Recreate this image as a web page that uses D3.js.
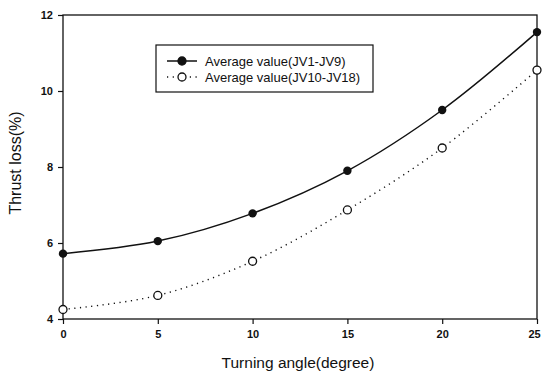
<!DOCTYPE html>
<html>
<head>
<meta charset="utf-8">
<script src="https://cdn.jsdelivr.net/npm/d3@7"></script>
<style>
  body { margin: 0; background: #fff; }
  text { font-family: "Liberation Sans", Arial, sans-serif; fill: #111; }
</style>
</head>
<body>
<svg id="chart" width="542" height="374"></svg>
<script>
// data
var angles = [0, 5, 10, 15, 20, 25];
var avgJV1to9 = [5.72, 6.05, 6.78, 7.9, 9.5, 11.55];
var avgJV10to18 = [4.25, 4.62, 5.52, 6.87, 8.5, 10.55];
var xTicks = [0, 5, 10, 15, 20, 25];
var yTicks = [4, 6, 8, 10, 12];
var seriesNames = ["Average value(JV1-JV9)", "Average value(JV10-JV18)"];

var svg = d3.select("#chart");
var m = { left: 63, right: 537, top: 15, bottom: 319 };

var x = d3.scaleLinear().domain([0, 25]).range([m.left, m.right]);
var y = d3.scaleLinear().domain([4, 12]).range([m.bottom, m.top]);

// frame
svg.append("rect")
  .attr("x", m.left).attr("y", m.top)
  .attr("width", m.right - m.left).attr("height", m.bottom - m.top)
  .attr("fill", "none").attr("stroke", "#111").attr("stroke-width", 1.3);

var xAxis = svg.append("g").attr("transform", "translate(0," + m.bottom + ")")
  .call(d3.axisBottom(x).tickValues(xTicks).tickSize(5).tickPadding(6));
var yAxis = svg.append("g").attr("transform", "translate(" + m.left + ",0)")
  .call(d3.axisLeft(y).tickValues(yTicks).tickSize(5).tickPadding(5));

[xAxis, yAxis].forEach(a => {
  a.select(".domain").remove();
  a.selectAll("line").attr("stroke", "#111").attr("stroke-width", 1.2);
  a.selectAll("text").style("font-size", "11px").style("font-weight", "bold")
    .style("font-family", "'Liberation Sans', Arial, sans-serif").attr("fill", "#111");
});
// last x label sits on the edge: keep it inside the window
xAxis.selectAll(".tick text").filter(d => d === 25).attr("dx", -3);

svg.append("text")
  .attr("x", (m.left + m.right) / 2 - 2).attr("y", 368)
  .attr("text-anchor", "middle").style("font-size", "15.5px")
  .text("Turning angle(degree)");

svg.append("text")
  .attr("transform", "translate(21," + (163) + ") rotate(-90)")
  .attr("text-anchor", "middle").style("font-size", "16px")
  .text("Thrust loss(%)");

var line = d3.line().x(d => x(d[0])).y(d => y(d[1])).curve(d3.curveCatmullRom);

var s1 = angles.map((a, i) => [a, avgJV1to9[i]]);
var s2 = angles.map((a, i) => [a, avgJV10to18[i]]);

svg.append("path").datum(s2).attr("d", line)
  .attr("fill", "none").attr("stroke", "#111").attr("stroke-width", 1.4)
  .attr("stroke-dasharray", "1.2,4.5");
svg.append("path").datum(s1).attr("d", line)
  .attr("fill", "none").attr("stroke", "#111").attr("stroke-width", 1.5);

svg.selectAll("circle.s2").data(s2).enter().append("circle")
  .attr("cx", d => x(d[0])).attr("cy", d => y(d[1])).attr("r", 4)
  .attr("fill", "#fff").attr("stroke", "#111").attr("stroke-width", 1.3);
svg.selectAll("circle.s1").data(s1).enter().append("circle")
  .attr("cx", d => x(d[0])).attr("cy", d => y(d[1])).attr("r", 4.2)
  .attr("fill", "#111");

// legend
var lg = svg.append("g");
lg.append("rect").attr("x", 156).attr("y", 45).attr("width", 217).attr("height", 47)
  .attr("fill", "#fff").attr("stroke", "#111").attr("stroke-width", 1.2);
seriesNames.forEach((name, i) => {
  var yy = 61 + i * 16;
  lg.append("line").attr("x1", 167).attr("x2", 197).attr("y1", yy).attr("y2", yy)
    .attr("stroke", "#111").attr("stroke-width", i ? 1.4 : 1.5)
    .attr("stroke-dasharray", i ? "1.2,4.5" : null);
  lg.append("circle").attr("cx", 182).attr("cy", yy).attr("r", 4)
    .attr("fill", i ? "#fff" : "#111").attr("stroke", "#111").attr("stroke-width", 1.3);
  lg.append("text").attr("x", 205).attr("y", yy + 4.5).style("font-size", "13px").text(name);
});
</script>
</body>
</html>
